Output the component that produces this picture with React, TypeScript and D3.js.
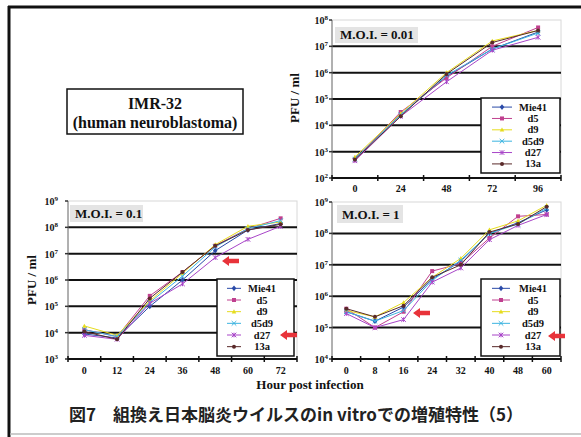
import React from "react";
import * as d3 from "d3";

const seriesNames = ["Mie41", "d5", "d9", "d5d9", "d27", "13a"];
const seriesColors = ["#2a4aa8", "#c0408f", "#e6dc1e", "#3cb4e0", "#a845c8", "#5a2a2a"];

const hoursA = ["0", "24", "48", "72", "96"];
const moi001 = [
  [5.6e2, 2.5e4, 7.1e5, 7.9e6, 3.5e7],
  [5.0e2, 3.2e4, 6.3e5, 1.0e7, 5.2e7],
  [6.3e2, 2.8e4, 1.0e6, 1.6e7, 4.0e7],
  [5.2e2, 2.5e4, 7.9e5, 7.9e6, 3.2e7],
  [4.5e2, 2.2e4, 4.5e5, 7.1e6, 2.2e7],
  [5.0e2, 2.2e4, 8.9e5, 1.4e7, 4.0e7],
];

const hoursB = ["0", "12", "24", "36", "48", "60", "72"];
const moi01 = [
  [8.9e3, 6.3e3, 1.0e5, 1.0e6, 1.3e7, 7.9e7, 1.4e8],
  [1.3e4, 7.1e3, 2.5e5, 2.0e6, 2.0e7, 8.9e7, 2.2e8],
  [1.8e4, 7.9e3, 1.6e5, 1.8e6, 2.2e7, 1.1e8, 1.6e8],
  [1.3e4, 7.1e3, 1.4e5, 1.4e6, 1.8e7, 8.9e7, 1.8e8],
  [7.9e3, 5.6e3, 1.3e5, 7.1e5, 7.1e6, 3.5e7, 1.1e8],
  [1.1e4, 5.6e3, 2.0e5, 2.0e6, 2.0e7, 7.9e7, 1.3e8],
];

const hoursC = ["0", "8", "16", "24", "32", "40", "48", "60"];
const moi1 = [
  [3.2e5, 1.6e5, 4.5e5, 3.5e6, 1.3e7, 1.0e8, 2.2e8, 5.6e8],
  [4.0e5, 1.0e5, 3.2e5, 6.3e6, 1.1e7, 7.1e7, 3.5e8, 4.0e8],
  [3.5e5, 2.2e5, 6.3e5, 4.0e6, 1.6e7, 1.3e8, 2.5e8, 7.9e8],
  [3.2e5, 1.6e5, 3.5e5, 3.2e6, 1.4e7, 1.0e8, 2.0e8, 6.3e8],
  [2.8e5, 1.0e5, 1.8e5, 2.8e6, 7.9e6, 6.3e7, 1.8e8, 4.0e8],
  [4.0e5, 2.2e5, 5.0e5, 4.0e6, 1.0e7, 1.1e8, 2.0e8, 7.1e8],
];

const SERIF = "'Liberation Serif', 'Times New Roman', Times, 'DejaVu Serif', 'Noto Serif', FreeSerif, serif";

function T(props: any) {
  const { family, children, ...rest } = props;
  return (
    <text {...rest} style={{ fontFamily: family || SERIF }}>
      {children}
    </text>
  );
}

function Marker({ kind, x, y, color }: { kind: number; x: number; y: number; color: string }) {
  const s = 2.3;
  switch (kind) {
    case 0:
      return <path d={`M${x},${y - s - 0.6}L${x + s},${y}L${x},${y + s + 0.6}L${x - s},${y}Z`} fill={color} />;
    case 1:
      return <rect x={x - s + 0.3} y={y - s + 0.3} width={2 * s - 0.6} height={2 * s - 0.6} fill={color} />;
    case 2:
      return <path d={`M${x},${y - s}L${x + s},${y + s - 0.5}L${x - s},${y + s - 0.5}Z`} fill={color} />;
    case 3:
      return (
        <path d={`M${x - s},${y - s}L${x + s},${y + s}M${x - s},${y + s}L${x + s},${y - s}`} stroke={color} strokeWidth={1} fill="none" />
      );
    case 4:
      return (
        <path
          d={`M${x - s},${y - s}L${x + s},${y + s}M${x - s},${y + s}L${x + s},${y - s}M${x},${y - s}L${x},${y + s}`}
          stroke={color}
          strokeWidth={1}
          fill="none"
        />
      );
    default:
      return <circle cx={x} cy={y} r={s - 0.3} fill={color} />;
  }
}

function Pow({ x, y, exp }: { x: number; y: number; exp: number }) {
  return (
    <T x={x} y={y} textAnchor="end" fontWeight="bold" fontSize={10} fill="#111">
      10
      <tspan fontSize={7} dy={-4}>
        {exp}
      </tspan>
    </T>
  );
}

type PanelProps = {
  left: number;
  right: number;
  top: number;
  bottom: number;
  expMin: number;
  expMax: number;
  cats: string[];
  data: number[][];
  moiLabel: string;
  moiBox: [number, number, number, number];
  tickLabelX: number;
  xLabelY: number;
  legend: { x0: number; x1: number; y0: number; y1: number; lineX0: number; lineX1: number; textX: number };
};

function Panel(p: PanelProps) {
  const y = d3.scaleLog().domain([Math.pow(10, p.expMin), Math.pow(10, p.expMax)]).range([p.bottom, p.top]);
  const x = d3.scalePoint<string>().domain(p.cats).range([p.left, p.right]).padding(0.5);
  const step = x.step();
  const exps = d3.range(p.expMin, p.expMax + 1);
  const line = d3
    .line<[string, number]>()
    .x((d) => x(d[0]) as number)
    .y((d) => y(d[1]));
  const leg = p.legend;
  const rowH = (leg.y1 - leg.y0) / 6.6;
  return (
    <g>
      <rect x={p.left} y={p.top} width={p.right - p.left} height={p.bottom - p.top} fill="#fff" stroke="#d8d8d8" strokeWidth={1} />
      {exps.slice(1, -1).map((e) => (
        <line key={e} x1={p.left} x2={p.right} y1={y(Math.pow(10, e))} y2={y(Math.pow(10, e))} stroke="#111" strokeWidth={2} />
      ))}
      <line x1={p.left} x2={p.left} y1={p.top} y2={p.bottom} stroke="#777" strokeWidth={1} />
      {exps.map((e) => (
        <line key={"t" + e} x1={p.left - 3} x2={p.left} y1={y(Math.pow(10, e))} y2={y(Math.pow(10, e))} stroke="#333" strokeWidth={1.5} />
      ))}
      <line x1={p.left} x2={p.right} y1={p.bottom} y2={p.bottom} stroke="#111" strokeWidth={2} />
      {d3.range(p.cats.length + 1).map((i) => (
        <line key={"c" + i} x1={p.left + i * step} x2={p.left + i * step} y1={p.bottom - 3} y2={p.bottom + 3} stroke="#111" strokeWidth={1.5} />
      ))}
      {exps.map((e) => (
        <Pow key={"l" + e} x={p.tickLabelX} y={y(Math.pow(10, e)) + 4} exp={e} />
      ))}
      {p.cats.map((c) => (
        <T key={"x" + c} x={x(c)} y={p.xLabelY} textAnchor="middle" fontWeight="bold" fontSize={10} fill="#111">
          {c}
        </T>
      ))}
      {p.data.map((vals, si) => (
        <g key={"s" + si}>
          <path
            d={line(p.cats.map((c, i) => [c, vals[i]] as [string, number])) || ""}
            fill="none"
            stroke={seriesColors[si]}
            strokeWidth={1}
          />
          {vals.map((v, i) => (
            <Marker key={i} kind={si} x={x(p.cats[i]) as number} y={y(v)} color={seriesColors[si]} />
          ))}
        </g>
      ))}
      <rect x={p.moiBox[0]} y={p.moiBox[1]} width={p.moiBox[2]} height={p.moiBox[3]} fill="#e4e4e4" />
      <T x={p.moiBox[0] + 5} y={p.moiBox[1] + p.moiBox[3] - 4} fontWeight="bold" fontSize={13} fill="#111">
        {p.moiLabel}
      </T>
      <rect x={leg.x0} y={leg.y0} width={leg.x1 - leg.x0} height={leg.y1 - leg.y0} fill="#fff" stroke="#111" strokeWidth={1.5} />
      {seriesNames.map((n, i) => {
        const yy = leg.y0 + rowH * (i + 0.8);
        const mx = (leg.lineX0 + leg.lineX1) / 2;
        return (
          <g key={"lg" + n}>
            <line x1={leg.lineX0} x2={leg.lineX1} y1={yy} y2={yy} stroke={seriesColors[i]} strokeWidth={1} />
            <Marker kind={i} x={mx} y={yy} color={seriesColors[i]} />
            <T x={leg.textX} y={yy + 3.5} textAnchor="middle" fontWeight="bold" fontSize={10.5} fill="#111">
              {n}
            </T>
          </g>
        );
      })}
    </g>
  );
}

function Arrow({ x, y }: { x: number; y: number }) {
  const d = `M${x},${y}L${x + 7},${y - 5}L${x + 7},${y - 2.2}L${x + 17},${y - 2.2}L${x + 17},${y + 2.2}L${x + 7},${y + 2.2}L${x + 7},${y + 5}Z`;
  return <path d={d} fill="#e8333a" />;
}

export default function App() {
  return (
    <svg width={581} height={437} style={{ display: "block", position: "absolute", left: 0, top: 0 }}>
      <rect x={0} y={0} width={581} height={437} fill="#fff" />
      <line x1={8} x2={581} y1={7} y2={7} stroke="#111" strokeWidth={3} />
      <line x1={9} x2={9} y1={6} y2={437} stroke="#111" strokeWidth={3} />
      <line x1={10} x2={581} y1={434} y2={434} stroke="#bbb" strokeWidth={1.5} />

      <rect x={67} y={89} width={176} height={45} fill="#fff" stroke="#111" strokeWidth={1.5} />
      <T x={155} y={109} textAnchor="middle" fontWeight="bold" fontSize={16} fill="#111">
        IMR-32
      </T>
      <T x={155} y={128} textAnchor="middle" fontWeight="bold" fontSize={16} fill="#111">
        (human neuroblastoma)
      </T>

      <Panel
        left={332}
        right={561}
        top={20}
        bottom={178}
        expMin={2}
        expMax={8}
        cats={hoursA}
        data={moi001}
        moiLabel="M.O.I. = 0.01"
        moiBox={[335, 27, 83, 16]}
        tickLabelX={328}
        xLabelY={192}
        legend={{ x0: 481, x1: 560, y0: 98, y1: 173, lineX0: 492, lineX1: 512, textX: 533 }}
      />
      <T transform="translate(299,98) rotate(-90)" textAnchor="middle" fontWeight="bold" fontSize={13} fill="#111">
        PFU / ml
      </T>

      <Panel
        left={68}
        right={297}
        top={201}
        bottom={359}
        expMin={3}
        expMax={9}
        cats={hoursB}
        data={moi01}
        moiLabel="M.O.I. = 0.1"
        moiBox={[70, 205, 73, 17]}
        tickLabelX={58}
        xLabelY={374}
        legend={{ x0: 217, x1: 294, y0: 279, y1: 356, lineX0: 227, lineX1: 241, textX: 262 }}
      />
      <T transform="translate(36,280) rotate(-90)" textAnchor="middle" fontWeight="bold" fontSize={13} fill="#111">
        PFU / ml
      </T>

      <Panel
        left={332}
        right={561}
        top={202}
        bottom={359}
        expMin={4}
        expMax={9}
        cats={hoursC}
        data={moi1}
        moiLabel="M.O.I. = 1"
        moiBox={[337, 205, 66, 18]}
        tickLabelX={328}
        xLabelY={374}
        legend={{ x0: 481, x1: 560, y0: 279, y1: 356, lineX0: 492, lineX1: 510, textX: 533 }}
      />

      <T x={310} y={389} textAnchor="middle" fontWeight="bold" fontSize={13} fill="#111">
        Hour post infection
      </T>

      <Arrow x={222} y={261} />
      <Arrow x={280} y={335} />
      <Arrow x={413} y={313} />
      <Arrow x={548} y={336} />

      <T x={296} y={421} textAnchor="middle" family="'Noto Sans CJK JP', sans-serif" fontWeight="bold" fontSize={17} fill="#222">
        図7　組換え日本脳炎ウイルスのin vitroでの増殖特性（5）
      </T>
    </svg>
  );
}
